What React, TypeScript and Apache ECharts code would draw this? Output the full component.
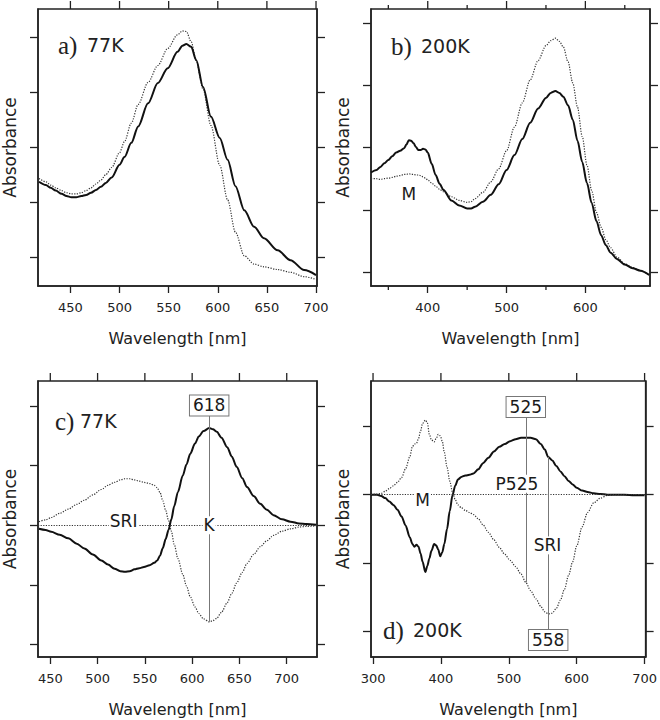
import React, { useEffect, useRef } from 'react';
import * as echarts from 'echarts';

// ---------- Panel a) 77K ----------
const aWl = [418, 425, 430, 435, 441, 446, 451, 456, 461, 466, 471, 476, 481, 486, 492, 500, 505, 512, 519, 529, 539, 549, 559, 564, 568, 573, 578, 585, 593, 602, 610, 618, 627, 637, 647, 661, 674, 688, 700];
const aSolid = [1.37, 1.31, 1.26, 1.21, 1.15, 1.11, 1.09, 1.09, 1.11, 1.13, 1.17, 1.22, 1.28, 1.35, 1.45, 1.68, 1.82, 2.08, 2.38, 2.80, 3.17, 3.44, 3.74, 3.85, 3.88, 3.83, 3.59, 3.10, 2.56, 2.17, 1.77, 1.29, 0.85, 0.55, 0.34, 0.12, -0.06, -0.24, -0.33];
const aDotted = [1.43, 1.37, 1.31, 1.26, 1.21, 1.17, 1.15, 1.15, 1.17, 1.21, 1.26, 1.33, 1.40, 1.50, 1.63, 1.90, 2.10, 2.44, 2.78, 3.18, 3.49, 3.80, 4.05, 4.12, 4.11, 3.92, 3.58, 3.06, 2.40, 1.67, 1.04, 0.45, 0.02, -0.13, -0.18, -0.23, -0.28, -0.36, -0.41];

// ---------- Panel b) 200K ----------
const bWl = [328, 335, 340, 345, 350, 355, 360, 365, 370, 373, 376, 379, 382, 385, 388, 391, 394, 397, 400, 405, 410, 415, 420, 430, 440, 450, 455, 460, 470, 480, 490, 500, 510, 520, 530, 540, 550, 556, 562, 567, 572, 578, 584, 590, 596, 602, 608, 614, 620, 626, 632, 640, 650, 660, 670, 681];
const bSolid = [1.60, 1.64, 1.69, 1.75, 1.80, 1.86, 1.92, 1.95, 1.99, 2.05, 2.12, 2.11, 2.07, 2.01, 1.96, 1.96, 1.98, 1.97, 1.92, 1.74, 1.56, 1.42, 1.32, 1.15, 1.07, 1.02, 1.02, 1.05, 1.13, 1.24, 1.41, 1.64, 1.88, 2.14, 2.40, 2.63, 2.80, 2.88, 2.91, 2.88, 2.82, 2.68, 2.45, 2.11, 1.77, 1.43, 1.11, 0.82, 0.59, 0.43, 0.31, 0.21, 0.12, 0.06, 0.02, -0.05];
const bDotted = [1.50, 1.50, 1.49, 1.50, 1.51, 1.52, 1.54, 1.55, 1.57, 1.57, 1.58, 1.57, 1.57, 1.56, 1.56, 1.55, 1.53, 1.51, 1.48, 1.43, 1.38, 1.33, 1.29, 1.21, 1.15, 1.12, 1.13, 1.18, 1.28, 1.45, 1.66, 1.95, 2.33, 2.72, 3.09, 3.40, 3.64, 3.72, 3.76, 3.71, 3.62, 3.38, 3.04, 2.65, 2.18, 1.72, 1.31, 0.96, 0.72, 0.52, 0.39, 0.24, 0.13, 0.07, 0.02, -0.05];

// ---------- Panel c) 77K difference ----------
const cWl = [438, 445, 451, 460, 469, 478, 486, 495, 504, 511, 518, 524, 529, 534, 539, 544, 549, 555, 560, 563, 566, 569, 572, 575, 578, 581, 585, 590, 594, 598, 603, 607, 612, 618, 622, 626, 631, 637, 642, 647, 653, 658, 665, 672, 679, 686, 695, 704, 713, 721, 731];
const cSolid = [-0.06, -0.08, -0.11, -0.16, -0.22, -0.31, -0.39, -0.49, -0.59, -0.66, -0.73, -0.77, -0.78, -0.77, -0.74, -0.72, -0.70, -0.67, -0.63, -0.59, -0.51, -0.38, -0.23, -0.08, 0.10, 0.32, 0.56, 0.83, 1.02, 1.20, 1.37, 1.49, 1.58, 1.63, 1.61, 1.57, 1.47, 1.31, 1.15, 0.98, 0.79, 0.64, 0.49, 0.36, 0.26, 0.17, 0.10, 0.06, 0.03, 0.02, 0.01];
const cDotted = [0.06, 0.09, 0.13, 0.20, 0.27, 0.35, 0.42, 0.51, 0.60, 0.67, 0.72, 0.76, 0.78, 0.78, 0.76, 0.74, 0.72, 0.70, 0.67, 0.63, 0.55, 0.41, 0.25, 0.08, -0.10, -0.32, -0.56, -0.82, -1.02, -1.20, -1.37, -1.48, -1.57, -1.62, -1.60, -1.56, -1.46, -1.30, -1.14, -0.97, -0.79, -0.64, -0.49, -0.36, -0.26, -0.17, -0.10, -0.06, -0.03, -0.02, -0.01];

// ---------- Panel d) 200K difference ----------
const dWl = [297, 306, 312, 318, 324, 330, 336, 342, 348, 354, 358, 361, 364, 367, 370, 373, 377, 380, 383, 386, 390, 393, 396, 399, 402, 405, 409, 413, 417, 421, 425, 430, 436, 442, 448, 455, 462, 470, 478, 486, 494, 502, 510, 518, 525, 532, 540, 547, 553, 558, 564, 570, 576, 582, 588, 594, 600, 608, 616, 625, 635, 645, 655, 670, 685, 700];
const dSolid = [0, 0, -0.02, -0.05, -0.10, -0.15, -0.22, -0.32, -0.45, -0.62, -0.72, -0.76, -0.73, -0.76, -0.86, -0.98, -1.13, -1.04, -0.93, -0.82, -0.72, -0.74, -0.80, -0.90, -0.84, -0.72, -0.50, -0.24, -0.01, 0.13, 0.22, 0.26, 0.28, 0.29, 0.31, 0.37, 0.46, 0.54, 0.63, 0.70, 0.74, 0.78, 0.81, 0.83, 0.83, 0.83, 0.81, 0.74, 0.66, 0.55, 0.50, 0.42, 0.34, 0.27, 0.20, 0.15, 0.10, 0.06, 0.04, 0.02, 0.01, 0, 0, 0, -0.01, -0.01];
const dDotted = [0, 0.01, 0.02, 0.05, 0.09, 0.13, 0.18, 0.25, 0.38, 0.55, 0.70, 0.74, 0.75, 0.82, 0.93, 1.04, 1.09, 1.05, 0.88, 0.80, 0.77, 0.82, 0.88, 0.86, 0.78, 0.62, 0.40, 0.20, 0.04, -0.07, -0.15, -0.19, -0.23, -0.26, -0.29, -0.35, -0.44, -0.55, -0.66, -0.77, -0.87, -0.96, -1.05, -1.16, -1.28, -1.40, -1.52, -1.63, -1.71, -1.74, -1.73, -1.66, -1.54, -1.38, -1.18, -0.98, -0.75, -0.47, -0.26, -0.12, -0.05, -0.01, 0, 0, 0, 0];

// ---------- Axis ranges and ticks ----------
const aRangeX = [417, 701];
const bRangeX = [328, 682];
const cRangeX = [437, 732];
const dRangeX = [297, 701.5];
const aRangeY = [-0.53, 4.52];
const bRangeY = [-0.226, 4.23];
const cRangeY = [-2.21, 2.42];
const dRangeY = [-2.37, 1.66];
const aTicksX = [450, 500, 550, 600, 650, 700];
const bTicksX = [400, 500, 600];
const bMinorX = [350, 450, 550, 650];
const cTicksX = [450, 500, 550, 600, 650, 700];
const dTicksX = [300, 400, 500, 600, 700];
const aTicksY = [0, 1, 2, 3, 4];
const bTicksY = [0, 1, 2, 3, 4];
const cTicksY = [-2, -1, 0, 1, 2];
const dTicksY = [-2, -1, 0, 1];

// ---------- Annotations ----------
const bNotes = [{ x: 376, y: 1.26, text: 'M', bg: false, box: false }];
const cNotes = [
  { x: 527.5, y: 0.07, text: 'SRI', bg: true, box: false },
  { x: 618, y: 0, text: 'K', bg: true, box: false },
  { x: 618, y: 2.01, text: '618', bg: true, box: true },
];
const dNotes = [
  { x: 373, y: -0.08, text: 'M', bg: true, box: false },
  { x: 512, y: 0.16, text: 'P525', bg: true, box: false },
  { x: 557, y: -0.74, text: 'SRI', bg: true, box: false },
  { x: 525, y: 1.28, text: '525', bg: true, box: true },
  { x: 558, y: -2.12, text: '558', bg: true, box: true },
];
const cGuides = [{ x: 618, y0: -1.62, y1: 1.85 }];
const dGuides = [
  { x: 525, y0: -1.28, y1: 1.16 },
  { x: 558, y0: 0.55, y1: -2.0 },
];

const panelTitles = [
  { letter: 'a)', temp: '77K', lx: 58, tx: 87, y: 45 },
  { letter: 'b)', temp: '200K', lx: 391, tx: 421, y: 46 },
  { letter: 'c)', temp: '77K', lx: 55, tx: 80, y: 421 },
  { letter: 'd)', temp: '200K', lx: 383, tx: 413, y: 630 },
];

const SANS = '"DejaVu Sans", Verdana, sans-serif';
const SERIF = '"Liberation Serif", "Times New Roman", serif';
const INK = '#222';

const grids = [
  { left: 37, top: 9, width: 280, height: 277 },
  { left: 371, top: 9, width: 279, height: 277 },
  { left: 37, top: 381, width: 280, height: 276 },
  { left: 371, top: 381, width: 278, height: 276 },
];

function zip(xs: number[], ys: number[]) {
  return xs.map((x, i) => [x, ys[i]]);
}

export default function App() {
  const ref = useRef<HTMLDivElement>(null);
  useEffect(() => {
    if (!ref.current) return;
    const chart = echarts.init(ref.current, null, { renderer: 'svg' });

    const axisLine = { show: true, onZero: false, lineStyle: { color: INK, width: 1.5 } };
    const tickStyle = { color: INK, width: 1.3 };
    const xAxis: any[] = [];
    const yAxis: any[] = [];
    const series: any[] = [];
    const xIdx: number[] = [];

    const panels = [
      { wl: aWl, solid: aSolid, dotted: aDotted, rx: aRangeX, ry: aRangeY, tx: aTicksX, minor: null as number[] | null, ty: aTicksY, notes: [] as any[], guides: [] as any[], zero: false },
      { wl: bWl, solid: bSolid, dotted: bDotted, rx: bRangeX, ry: bRangeY, tx: bTicksX, minor: bMinorX, ty: bTicksY, notes: bNotes, guides: [], zero: false },
      { wl: cWl, solid: cSolid, dotted: cDotted, rx: cRangeX, ry: cRangeY, tx: cTicksX, minor: null, ty: cTicksY, notes: cNotes, guides: cGuides, zero: true },
      { wl: dWl, solid: dSolid, dotted: dDotted, rx: dRangeX, ry: dRangeY, tx: dTicksX, minor: null, ty: dTicksY, notes: dNotes, guides: dGuides, zero: true },
    ];

    panels.forEach((p, gi) => {
      const xi = xAxis.length;
      xIdx.push(xi);
      xAxis.push({
        type: 'value', gridIndex: gi, min: p.rx[0], max: p.rx[1], position: 'bottom',
        axisLine, splitLine: { show: false },
        axisTick: { show: true, inside: false, length: 7, customValues: p.tx.slice(), lineStyle: tickStyle },
        axisLabel: { show: true, customValues: p.tx.slice(), margin: 15, fontSize: 13, color: INK, fontFamily: SANS },
        name: 'Wavelength [nm]', nameLocation: 'middle', nameGap: 44,
        nameTextStyle: { fontSize: 16, color: INK, fontFamily: SANS },
      });
      const yi = yAxis.length;
      yAxis.push({
        type: 'value', gridIndex: gi, min: p.ry[0], max: p.ry[1], position: 'left',
        axisLine, splitLine: { show: false },
        axisTick: { show: true, inside: false, length: 8, customValues: p.ty.slice(), lineStyle: tickStyle },
        axisLabel: { show: false },
        name: 'Absorbance', nameLocation: 'middle', nameGap: 20, nameRotate: 90,
        nameTextStyle: { fontSize: 17, color: INK, fontFamily: SANS },
      });
      yAxis.push({
        type: 'value', gridIndex: gi, min: p.ry[0], max: p.ry[1], position: 'right',
        axisLine, splitLine: { show: false },
        axisTick: { show: true, inside: false, length: 8, customValues: p.ty.slice(), lineStyle: tickStyle },
        axisLabel: { show: false },
      });

      const markData: any[] = [];
      if (p.zero) {
        markData.push({ yAxis: 0, lineStyle: { color: '#333', width: 1.1, type: [1.2, 1.4] } });
      }
      p.guides.forEach((g: any) => {
        markData.push([{ coord: [g.x, g.y0] }, { coord: [g.x, g.y1] }]);
      });

      series.push({
        type: 'line', xAxisIndex: xi, yAxisIndex: yi, data: zip(p.wl, p.dotted),
        showSymbol: false, smooth: 0.3, smoothMonotone: 'x', z: 2,
        lineStyle: { color: '#333', width: 1.2, type: [1.2, 1.4] },
        markLine: markData.length ? {
          symbol: 'none', silent: true, label: { show: false },
          lineStyle: { color: '#777', width: 1, type: 'solid' },
          data: markData,
        } : undefined,
      });
      series.push({
        type: 'line', xAxisIndex: xi, yAxisIndex: yi, data: zip(p.wl, p.solid),
        showSymbol: false, smooth: 0.3, smoothMonotone: 'x', z: 3,
        lineStyle: { color: '#111', width: 2 },
      });
      if (p.notes.length) {
        series.push({
          type: 'scatter', xAxisIndex: xi, yAxisIndex: yi, z: 10, symbolSize: 1,
          itemStyle: { color: '#fff', opacity: 1 }, silent: true,
          label: {
            show: true, position: [0.5, 0.5], align: 'center', verticalAlign: 'middle',
            fontSize: 17, color: '#1a1a1a', fontFamily: SANS, textBorderWidth: 0,
          },
          data: p.notes.map((n: any) => ({
            value: [n.x, n.y],
            label: {
              formatter: n.text,
              color: '#1a1a1a',
              textBorderWidth: 0,
              backgroundColor: n.bg ? '#fff' : 'transparent',
              borderColor: n.box ? '#777' : 'transparent',
              borderWidth: n.box ? 1 : 0,
              padding: n.box ? [2, 3, 0, 3] : [0, 1],
              lineHeight: 18,
            },
          })),
        });
      }
    });

    const graphic: any[] = [];
    panelTitles.forEach((t) => {
      graphic.push({
        type: 'text', x: t.lx, y: t.y, z: 100,
        style: { text: t.letter, fontSize: 25, fontFamily: SERIF, fill: INK, verticalAlign: 'middle', align: 'left' },
      });
      graphic.push({
        type: 'text', x: t.tx, y: t.y, z: 100,
        style: { text: t.temp, fontSize: 19, fontFamily: SANS, fill: INK, verticalAlign: 'middle', align: 'left' },
      });
    });

    chart.setOption({
      animation: false,
      backgroundColor: '#fff',
      grid: grids.map((g) => ({ ...g, show: true, borderColor: INK, borderWidth: 1.5, backgroundColor: 'transparent' })),
      xAxis, yAxis, series,
    });

    // Top ticks (major + minor) and bottom minor ticks, placed through the x axis scale.
    const toPx = (gi: number, v: number, rx: number[]) => {
      let px: any = NaN;
      try {
        const r: any = chart.convertToPixel({ gridIndex: gi } as any, [v, 0]);
        px = Array.isArray(r) ? r[0] : r;
      } catch (e) { px = NaN; }
      if (typeof px !== 'number' || !isFinite(px)) {
        try {
          const r: any = chart.convertToPixel({ xAxisIndex: xIdx[gi] } as any, v);
          px = Array.isArray(r) ? r[0] : r;
        } catch (e) { px = NaN; }
      }
      if (typeof px !== 'number' || !isFinite(px)) {
        const g = grids[gi];
        px = g.left + ((v - rx[0]) / (rx[1] - rx[0])) * g.width;
      }
      return px;
    };

    panels.forEach((p, gi) => {
      const g = grids[gi];
      const top = g.top;
      const bottom = g.top + g.height;
      const specs: { v: number; len: number; side: string }[] = [];
      p.tx.forEach((v) => specs.push({ v, len: 8, side: 'top' }));
      if (p.minor) {
        p.minor.forEach((v) => specs.push({ v, len: 4, side: 'top' }));
        p.minor.forEach((v) => specs.push({ v, len: 4, side: 'bottom' }));
      }
      specs.forEach((s) => {
        const px = toPx(gi, s.v, p.rx);
        const y0 = s.side === 'top' ? top : bottom;
        const y1 = s.side === 'top' ? top - s.len : bottom + s.len;
        graphic.push({
          type: 'line', silent: true, z: 50,
          shape: { x1: px, y1: y0, x2: px, y2: y1 },
          style: { stroke: INK, lineWidth: 1.3 },
        });
      });
    });
    chart.setOption({ graphic: { elements: graphic } });

    return () => chart.dispose();
  }, []);
  return <div ref={ref} style={{ position: 'fixed', left: 0, top: 0, width: 660, height: 720, background: '#fff' }} />;
}
